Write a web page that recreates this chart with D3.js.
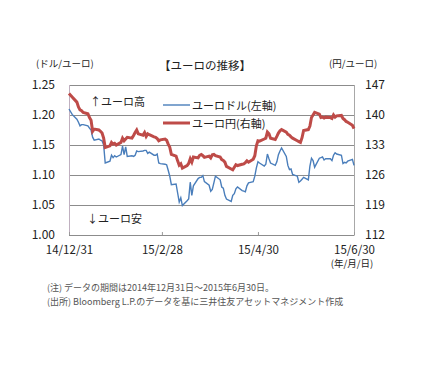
<!DOCTYPE html>
<html>
<head>
<meta charset="utf-8">
<script src="https://cdn.jsdelivr.net/npm/d3@7"></script>
<style>
  body { margin: 0; background: #fff; }
  text { font-family: "Noto Sans CJK JP", sans-serif; }
</style>
</head>
<body>
<div id="chart"></div>
<script>
// dates (2014/12/31 - 2015/6/30), business days
var dates = ["2014-12-31","2015-01-02","2015-01-05","2015-01-06","2015-01-07","2015-01-08","2015-01-09","2015-01-12","2015-01-13","2015-01-14",
  "2015-01-15","2015-01-16","2015-01-19","2015-01-20","2015-01-21","2015-01-22","2015-01-23","2015-01-26","2015-01-27","2015-01-28",
  "2015-01-29","2015-01-30","2015-02-02","2015-02-03","2015-02-04","2015-02-05","2015-02-06","2015-02-09","2015-02-10","2015-02-11",
  "2015-02-12","2015-02-13","2015-02-16","2015-02-17","2015-02-18","2015-02-19","2015-02-20","2015-02-23","2015-02-24","2015-02-25",
  "2015-02-26","2015-02-27","2015-03-02","2015-03-03","2015-03-04","2015-03-05","2015-03-06","2015-03-09","2015-03-10","2015-03-11",
  "2015-03-12","2015-03-13","2015-03-16","2015-03-17","2015-03-18","2015-03-19","2015-03-20","2015-03-23","2015-03-24","2015-03-25",
  "2015-03-26","2015-03-27","2015-03-30","2015-03-31","2015-04-01","2015-04-02","2015-04-03","2015-04-06","2015-04-07","2015-04-08",
  "2015-04-09","2015-04-10","2015-04-13","2015-04-14","2015-04-15","2015-04-16","2015-04-17","2015-04-20","2015-04-21","2015-04-22",
  "2015-04-23","2015-04-24","2015-04-27","2015-04-28","2015-04-29","2015-04-30","2015-05-01","2015-05-04","2015-05-05","2015-05-06",
  "2015-05-07","2015-05-08","2015-05-11","2015-05-12","2015-05-13","2015-05-14","2015-05-15","2015-05-18","2015-05-19","2015-05-20",
  "2015-05-21","2015-05-22","2015-05-25","2015-05-26","2015-05-27","2015-05-28","2015-05-29","2015-06-01","2015-06-02","2015-06-03",
  "2015-06-04","2015-06-05","2015-06-08","2015-06-09","2015-06-10","2015-06-11","2015-06-12","2015-06-15","2015-06-16","2015-06-17",
  "2015-06-18","2015-06-19","2015-06-22","2015-06-23","2015-06-24","2015-06-25","2015-06-26","2015-06-29","2015-06-30"];

// ユーロドル (left axis)
var eurUsd = [1.210,1.201,1.193,1.188,1.182,1.184,1.184,1.182,1.178,1.175,
  1.163,1.158,1.160,1.158,1.157,1.150,1.120,1.123,1.133,1.129,
  1.132,1.130,1.134,1.148,1.134,1.147,1.131,1.132,1.131,1.133,
  1.140,1.139,1.140,1.141,1.141,1.136,1.138,1.133,1.133,1.135,
  1.120,1.119,1.118,1.117,1.108,1.098,1.084,1.085,1.070,1.055,
  1.062,1.049,1.057,1.060,1.088,1.066,1.082,1.094,1.096,1.096,
  1.099,1.089,1.083,1.073,1.076,1.087,1.098,1.092,1.080,1.078,
  1.066,1.060,1.056,1.066,1.069,1.077,1.080,1.074,1.073,1.072,
  1.082,1.087,1.089,1.098,1.112,1.122,1.120,1.115,1.118,1.135,
  1.127,1.120,1.116,1.122,1.134,1.140,1.145,1.131,1.116,1.109,
  1.110,1.101,1.098,1.088,1.090,1.093,1.096,1.092,1.115,1.128,
  1.124,1.113,1.128,1.129,1.130,1.125,1.127,1.127,1.124,1.133,
  1.137,1.135,1.133,1.119,1.121,1.120,1.123,1.126,1.116];

// ユーロ円 (right axis)
var eurJpy = [145.0,144.2,143.0,141.9,141.2,141.0,140.6,140.3,139.4,138.8,
  136.2,136.7,136.5,136.2,135.8,134.6,132.4,132.8,133.6,133.2,
  133.4,133.0,133.6,134.6,134.0,134.4,134.8,134.6,135.2,135.9,
  136.5,135.6,135.3,135.9,135.0,135.6,135.4,134.9,134.8,134.5,
  134.0,134.2,134.4,134.1,133.2,132.5,130.8,130.4,129.3,128.3,
  128.6,127.6,128.2,128.7,129.8,129.0,130.2,130.0,130.6,130.8,
  130.5,130.1,130.4,130.0,130.7,130.8,130.5,130.2,129.6,129.4,
  129.0,128.0,127.4,127.2,127.8,128.4,128.2,128.5,128.6,128.9,
  129.3,129.0,129.7,130.5,132.8,134.0,133.9,134.4,134.6,136.0,
  135.6,134.6,134.3,135.0,135.8,136.3,136.6,136.0,135.5,135.3,
  134.9,134.6,134.0,133.8,133.6,134.7,136.4,136.6,137.4,139.4,
  140.0,140.6,140.2,139.4,139.5,139.3,139.5,139.4,139.2,140.0,
  139.5,139.8,139.9,139.2,138.9,138.5,138.3,137.6,136.8];

var leftTicks = [1.00, 1.05, 1.10, 1.15, 1.20, 1.25];
var rightTicks = [112, 119, 126, 133, 140, 147];
var xTickDates = ["2014-12-31", "2015-02-28", "2015-04-30", "2015-06-30"];
var xTickLabels = ["14/12/31", "15/2/28", "15/4/30", "15/6/30"];

var w = 436, h = 378;
var plotL = 69, plotR = 354, plotT = 85, plotB = 235;
var blue = "#4a7ebb", red = "#be4b48";
var parse = d3.timeParse("%Y-%m-%d");

var svg = d3.select("#chart").append("svg")
    .attr("width", w)
    .attr("height", h);

var x = d3.scaleTime()
    .domain([parse("2014-12-31"), parse("2015-06-30")])
    .range([plotL, plotR]);
var yL = d3.scaleLinear().domain([1.00, 1.25]).range([plotB, plotT]);
var yR = d3.scaleLinear().domain([112, 147]).range([plotB, plotT]);

// gridlines
svg.append("g")
   .selectAll("line")
   .data(leftTicks)
   .enter().append("line")
   .attr("x1", plotL).attr("x2", plotR)
   .attr("y1", d => yL(d) + 0.5).attr("y2", d => yL(d) + 0.5)
   .attr("stroke", "#8c8c8c").attr("stroke-width", 1);

// plot box sides
svg.append("line").attr("x1", plotL + 0.5).attr("x2", plotL + 0.5).attr("y1", plotT).attr("y2", plotB)
   .attr("stroke", "#c0b0c0");
svg.append("line").attr("x1", plotR + 0.5).attr("x2", plotR + 0.5).attr("y1", plotT).attr("y2", plotB)
   .attr("stroke", "#a8a8a8");

// bottom axis
var xAxis = d3.axisBottom(x)
    .tickValues(xTickDates.map(parse))
    .tickFormat((d, i) => xTickLabels[i])
    .tickSizeInner(-3).tickSizeOuter(0).tickPadding(11);
var gx = svg.append("g").attr("transform", "translate(0," + plotB + ")").call(xAxis);
gx.select(".domain").attr("stroke", "#8c8c8c");
gx.selectAll(".tick line").attr("stroke", "#9a9a9a");
gx.selectAll("text").attr("font-size", 11.5).attr("fill", "#222").attr("font-family", "Liberation Sans, Arial, sans-serif");

// left axis
var gl = svg.append("g").attr("transform", "translate(" + plotL + ",0)")
    .call(d3.axisLeft(yL).tickValues(leftTicks).tickFormat(d3.format(".2f")).tickSize(0).tickPadding(14));
gl.select(".domain").remove();
gl.selectAll("text").attr("font-size", 12).attr("fill", "#222").attr("font-family", "Liberation Sans, Arial, sans-serif");

// right axis
var gr = svg.append("g").attr("transform", "translate(" + plotR + ",0)")
    .call(d3.axisRight(yR).tickValues(rightTicks).tickSize(0).tickPadding(11));
gr.select(".domain").remove();
gr.selectAll("text").attr("font-size", 12).attr("fill", "#222").attr("font-family", "Liberation Sans, Arial, sans-serif");

// lines
var lineL = d3.line().x((d, i) => x(parse(dates[i]))).y(d => yL(d));
var lineR = d3.line().x((d, i) => x(parse(dates[i]))).y(d => yR(d));

svg.append("path").datum(eurUsd)
   .attr("d", lineL).attr("fill", "none")
   .attr("stroke", blue).attr("stroke-width", 1.4);
svg.append("path").datum(eurJpy)
   .attr("d", lineR).attr("fill", "none")
   .attr("stroke", red).attr("stroke-width", 3);

// titles and units
svg.append("text").attr("x", 205).attr("y", 70).attr("text-anchor", "middle")
   .attr("font-size", 11.5).attr("fill", "#222").text("【ユーロの推移】");
svg.append("text").attr("x", 36).attr("y", 67)
   .attr("font-size", 9.5).attr("fill", "#222").text("(ドル/ユーロ)");
svg.append("text").attr("x", 329).attr("y", 67)
   .attr("font-size", 9.5).attr("fill", "#222").text("(円/ユーロ)");
svg.append("text").attr("x", 352).attr("y", 267).attr("text-anchor", "middle")
   .attr("font-size", 9.5).attr("fill", "#222").text("(年/月/日)");

// annotations
svg.append("text").attr("x", 90).attr("y", 106)
   .attr("font-size", 11).attr("fill", "#222").text("↑ユーロ高");
svg.append("text").attr("x", 87).attr("y", 223)
   .attr("font-size", 11).attr("fill", "#222").text("↓ユーロ安");

// legend
var legend = [
  {name: "ユーロドル(左軸)", color: blue, width: 1.4},
  {name: "ユーロ円(右軸)", color: red, width: 3}
];
var lg = svg.append("g").selectAll("g").data(legend).enter().append("g")
   .attr("transform", (d, i) => "translate(163," + (105 + i * 18) + ")");
lg.append("line").attr("x1", 0).attr("x2", 27)
   .attr("stroke", d => d.color).attr("stroke-width", d => d.width);
lg.append("text").attr("x", 29).attr("y", 4.5)
   .attr("font-size", 11).attr("fill", "#222").text(d => d.name);

// notes
svg.append("text").attr("x", 47).attr("y", 291)
   .attr("font-size", 9).attr("fill", "#555").text("(注) データの期間は2014年12月31日～2015年6月30日。");
svg.append("text").attr("x", 47).attr("y", 305)
   .attr("font-size", 9).attr("fill", "#555").text("(出所) Bloomberg L.P.のデータを基に三井住友アセットマネジメント作成");
</script>
</body>
</html>
